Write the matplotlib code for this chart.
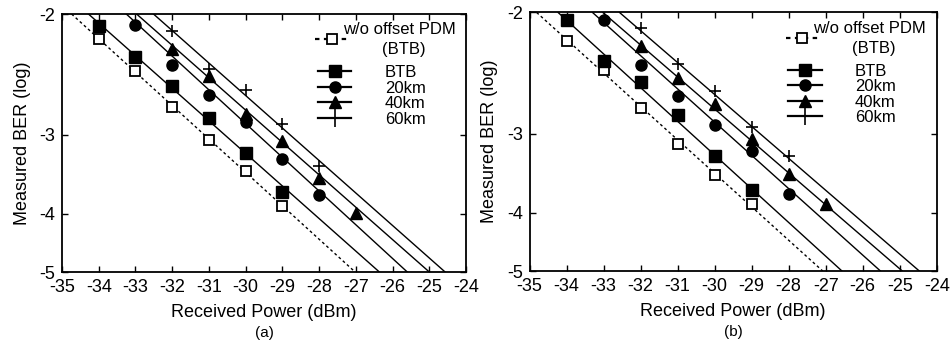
import math

import numpy as np
import matplotlib
matplotlib.use("Agg")
from matplotlib import pyplot as plt
from matplotlib.lines import Line2D
from matplotlib.legend_handler import HandlerLine2D

plt.rcParams["font.family"] = ["Liberation Sans", "DejaVu Sans"]
plt.rcParams["axes.unicode_minus"] = False

# Received power (dBm) and log10(BER)
power_ticks = list(range(-35, -23))
ber_ticks = [-5, -4, -3, -2]

p_wo = [-34, -33, -32, -31, -30, -29]
p_btb = [-34, -33, -32, -31, -30, -29]
p_20km = [-33, -32, -31, -30, -29, -28]
p_40km = [-32, -31, -30, -29, -28, -27]
p_60km = [-32, -31, -30, -29, -28]

# panel (a)
ber_wo_a = [-2.17, -2.41, -2.72, -3.05, -3.41, -3.89]
ber_btb_a = [-2.08, -2.30, -2.53, -2.83, -3.20, -3.69]
ber_20km_a = [-2.07, -2.36, -2.61, -2.87, -3.27, -3.73]
ber_40km_a = [-2.24, -2.45, -2.79, -3.07, -3.51, -3.99]
ber_60km_a = [-2.11, -2.39, -2.57, -2.89, -3.35]

# panel (b)
ber_wo_b = [-2.19, -2.41, -2.74, -3.11, -3.48, -3.88]
ber_btb_b = [-2.05, -2.34, -2.51, -2.81, -3.25, -3.68]
ber_20km_b = [-2.05, -2.37, -2.63, -2.91, -3.19, -3.73]
ber_40km_b = [-2.23, -2.48, -2.71, -3.06, -3.47, -3.87]
ber_60km_b = [-2.10, -2.36, -2.59, -2.93, -3.25]

# fitted lines: power where each line crosses log(BER) = -2 and -5
fit_ber = [-2, -5]
fit_wo_a = [-34.74, -27.02]
fit_btb_a = [-34.28, -26.36]
fit_20km_a = [-33.25, -25.60]
fit_40km_a = [-32.97, -25.00]
fit_60km_a = [-32.51, -24.57]

fit_wo_b = [-34.81, -27.08]
fit_btb_b = [-34.23, -26.56]
fit_20km_b = [-33.30, -25.52]
fit_40km_b = [-33.02, -24.93]
fit_60km_b = [-32.57, -24.47]

labels = ["(BTB)", "BTB", "20km", "40km", "60km"]
ref_title = "w/o offset PDM"


# y axis is linear in log10(Q), Q from BER = 0.5*erfc(Q/sqrt(2))
def q_factor(ber):
    lo, hi = 0.0, 12.0
    for _ in range(60):
        mid = 0.5 * (lo + hi)
        if 0.5 * math.erfc(mid / math.sqrt(2)) > ber:
            lo = mid
        else:
            hi = mid
    return 0.5 * (lo + hi)


log_ber_grid = np.linspace(-9, -0.5, 600)
q_grid = -np.log10([q_factor(10.0 ** v) for v in log_ber_grid])


def forward(v):
    return np.interp(v, log_ber_grid, q_grid)


def inverse(t):
    return np.interp(t, q_grid, log_ber_grid)


class RaisedLine(HandlerLine2D):
    # legend key drawn a bit above its label row
    def __init__(self, lift, **kw):
        super().__init__(**kw)
        self.lift = lift

    def create_artists(self, legend, orig_handle, xdescent, ydescent,
                       width, height, fontsize, trans):
        return super().create_artists(legend, orig_handle, xdescent,
                                      ydescent - 2 * self.lift, width, height,
                                      fontsize, trans)


styles = [
    dict(ls=(0, (2, 2)), marker="s", mfc="white", ms=6.5, mew=1.3),
    dict(ls="-", marker="s", mfc="black", ms=8, mew=1.0),
    dict(ls="-", marker="o", mfc="black", ms=8, mew=1.0),
    dict(ls="-", marker="^", mfc="black", ms=8, mew=1.0),
    dict(ls="-", marker="+", mfc="black", ms=9, mew=1.2),
]

panels = [
    ("(a)", [0.0653, 0.2161, 0.4253, 0.7435],
     [(p_wo, ber_wo_a, fit_wo_a), (p_btb, ber_btb_a, fit_btb_a),
      (p_20km, ber_20km_a, fit_20km_a), (p_40km, ber_40km_a, fit_40km_a),
      (p_60km, ber_60km_a, fit_60km_a)]),
    ("(b)", [0.5575, 0.2190, 0.4285, 0.7450],
     [(p_wo, ber_wo_b, fit_wo_b), (p_btb, ber_btb_b, fit_btb_b),
      (p_20km, ber_20km_b, fit_20km_b), (p_40km, ber_40km_b, fit_40km_b),
      (p_60km, ber_60km_b, fit_60km_b)]),
]

fig = plt.figure(figsize=(9.5, 3.47), dpi=100)

for tag, rect, series in panels:
    ax = fig.add_axes(rect)
    ax.set_yscale("function", functions=(forward, inverse))

    handles = []
    for (px, py, fit), st in zip(series, styles):
        ax.plot(fit, fit_ber, color="black", ls=st["ls"], lw=1.0, zorder=2)
        ax.plot(px, py, ls="none", marker=st["marker"], mfc=st["mfc"],
                mec="black", ms=st["ms"], mew=st["mew"], zorder=3)
        hms = 13 if st["marker"] == "+" else st["ms"]
        handles.append(Line2D([], [], color="black", ls=st["ls"], lw=1.6,
                              marker=st["marker"], mfc=st["mfc"], mec="black",
                              ms=hms, mew=st["mew"]))

    ax.set_xlim(-35, -24)
    ax.set_ylim(-5, -2)
    ax.set_xticks(power_ticks)
    ax.set_xticklabels([str(p) for p in power_ticks])
    ax.set_yticks(ber_ticks)
    ax.set_yticklabels([str(b) for b in ber_ticks])
    ax.minorticks_off()
    ax.tick_params(direction="in", top=True, right=True, length=4,
                   width=1.0, labelsize=13, pad=5)
    for sp in ax.spines.values():
        sp.set_linewidth(1.3)

    ax.set_xlabel("Received Power (dBm)", fontsize=13, labelpad=6)
    ax.set_ylabel("Measured BER (log)", fontsize=13, labelpad=6)
    ax.text(0.5, -0.236, tag, transform=ax.transAxes, ha="center",
            va="center", fontsize=11)

    leg_kw = dict(loc="upper right", frameon=False, fontsize=12,
                  handlelength=2.0, handletextpad=2.0, borderpad=0.0,
                  borderaxespad=0.0)
    leg_ref = ax.legend(handles[:1], labels[:1], bbox_to_anchor=(0.90, 0.89),
                        labelspacing=0.0,
                        handler_map={handles[0]: RaisedLine(6.7)}, **leg_kw)
    ax.add_artist(leg_ref)
    ax.legend(handles[1:], labels[1:], bbox_to_anchor=(0.90, 0.802),
              labelspacing=0.03, **leg_kw)
    ax.text(0.696, 0.94, ref_title, transform=ax.transAxes,
            ha="left", va="center", fontsize=12)

fig.savefig("out.png", dpi=100)
